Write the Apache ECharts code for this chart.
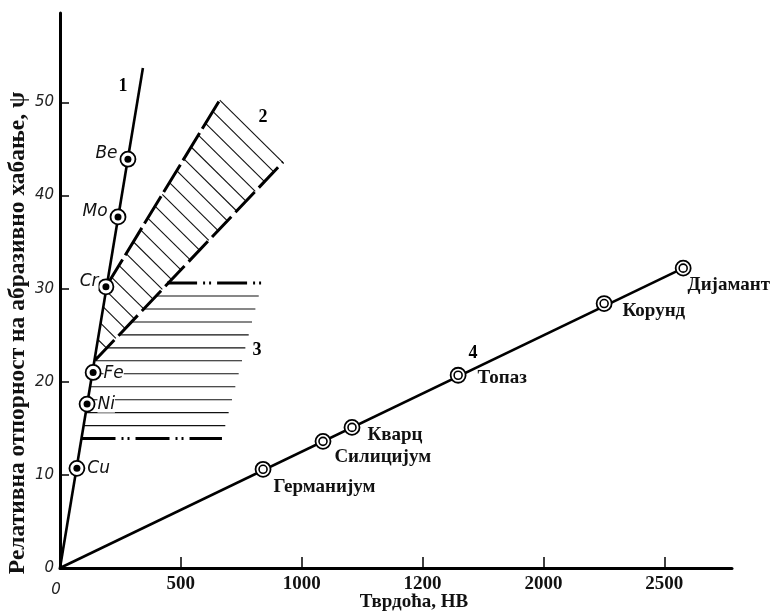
<!DOCTYPE html>
<html>
<head>
<meta charset="utf-8">
<script src="https://cdn.jsdelivr.net/npm/echarts@6/dist/echarts.min.js"></script>
<style>
  html, body { margin: 0; padding: 0; background: #fff; }
  #chart { width: 770px; height: 613px; }
</style>
</head>
<body>
<div id="chart"></div>
<script>
// axis ticks: positions on the scale and the printed labels (as in the figure)
var xTickValues = [0, 500, 1000, 1500, 2000, 2500];
var xTickLabels = ['0', '500', '1000', '1200', '2000', '2500'];
var yTickValues = [0, 10, 20, 30, 40, 50];

// curve 1 - metals
var metalNames = ['Cu', 'Ni', 'Fe', 'Cr', 'Mo', 'Be'];
var metalHB = [70, 112, 137, 190, 240, 281];
var metalPsi = [10.7, 17.6, 21.0, 30.2, 37.7, 43.9];
var line1End = [343, 53.7];

// curve 4 - minerals / semiconductors
var mineralNames = ['Германијум', 'Силицијум', 'Кварц', 'Топаз', 'Корунд', 'Дијамант'];
var mineralHB = [840, 1088, 1208, 1647, 2251, 2578];
var mineralPsi = [10.6, 13.6, 15.1, 20.7, 28.4, 32.2];

// band 2 (hatched wedge): lower-left, upper-left, top, right corners
var band2 = [[145, 22.3], [190, 30.2], [662, 50.3], [923, 43.6]];
// band 3 (horizontal hatching)
var band3 = [[443, 30.6], [836, 30.6], [670, 13.9], [89, 13.9], [145, 22.3]];
var band3Top = [[443, 30.6], [836, 30.6]];
var band3Bottom = [[89, 13.9], [670, 13.9]];

// curve numbers
var curveTags = ['1', '2', '3', '4'];
var curveTagHB = [261, 840, 815, 1709];
var curveTagPsi = [51.7, 48.4, 23.4, 23.1];

// label placement (styles)
var metalLabelPos = ['right', 'right', 'right', 'left', 'left', 'left'];
var metalLabelOffset = [[0, 0], [0, 0], [0, 1], [3, -5], [0, -5], [0, -6]];
var mineralLabelOffset = [[2, 18], [3, 16], [7, 8], [11, 3], [10, 8], [-4, 17]];

var serif = '"Liberation Serif", "Times New Roman", serif';
var sans = '"DejaVu Sans", "Liberation Sans", sans-serif';

function pairs(xs, ys) {
  return xs.map(function (x, i) { return [x, ys[i]]; });
}

// cut line n.p = d with a convex polygon
function clipLine(poly, n, d) {
  var pts = [];
  for (var i = 0; i < poly.length; i++) {
    var p = poly[i], q = poly[(i + 1) % poly.length];
    var sp = n[0] * p[0] + n[1] * p[1] - d;
    var sq = n[0] * q[0] + n[1] * q[1] - d;
    if ((sp <= 0 && sq > 0) || (sp > 0 && sq <= 0)) {
      var t = sp / (sp - sq);
      pts.push([p[0] + (q[0] - p[0]) * t, p[1] + (q[1] - p[1]) * t]);
    }
  }
  return pts.length >= 2 ? pts : null;
}

function hatch(poly, edgeA, edgeB, step) {
  var dx = poly[edgeB][0] - poly[edgeA][0], dy = poly[edgeB][1] - poly[edgeA][1];
  var len = Math.sqrt(dx * dx + dy * dy);
  var n = [-dy / len, dx / len];
  var proj = poly.map(function (p) { return n[0] * p[0] + n[1] * p[1]; });
  var d0 = proj[edgeA];
  var lo = Math.min.apply(null, proj), hi = Math.max.apply(null, proj);
  var far = Math.abs(lo - d0) > Math.abs(hi - d0) ? lo : hi;
  var sgn = far > d0 ? 1 : -1;
  var out = [];
  for (var k = 0; k < 200; k++) {
    var d = d0 + sgn * (k === 0 ? 0.5 : k * step);
    if ((far - d) * sgn <= 0.5) break;
    var seg = clipLine(poly, n, d);
    if (seg) {
      out.push({
        type: 'line',
        shape: { x1: seg[0][0], y1: seg[0][1], x2: seg[1][0], y2: seg[1][1] },
        style: { stroke: '#111', lineWidth: 1.1 }
      });
    }
  }
  return out;
}

var chart = echarts.init(document.getElementById('chart'));

var option = {
  backgroundColor: '#fff',
  animation: false,
  grid: { left: 60, right: 38, top: 13, bottom: 45, outerBoundsMode: 'none', containLabel: false },
  xAxis: {
    type: 'value',
    min: 0,
    max: 2780,
    interval: 500,
    name: 'Тврдоћа, HB',
    nameLocation: 'middle',
    nameGap: 25,
    nameMoveOverlap: false,
    nameTextStyle: { fontFamily: serif, fontWeight: 'bold', fontSize: 19, color: '#111', padding: [0, 0, 0, 36] },
    axisLine: { lineStyle: { color: '#000', width: 3 } },
    axisTick: { inside: true, length: 11, customValues: xTickValues.slice(1), lineStyle: { color: '#000', width: 1.5 } },
    axisLabel: {
      customValues: xTickValues,
      margin: 7,
      formatter: function (v) {
        var i = xTickValues.indexOf(v);
        if (i < 0) return '';
        return i === 0 ? '{i|' + xTickLabels[i] + '}' : '{b|' + xTickLabels[i] + '}';
      },
      rich: {
        i: { fontFamily: sans, fontStyle: 'italic', fontSize: 15, color: '#222', padding: [8, 8, 0, 0] },
        b: { fontFamily: serif, fontWeight: 'bold', fontSize: 19, color: '#111' }
      }
    },
    splitLine: { show: false }
  },
  yAxis: {
    type: 'value',
    min: 0,
    max: 59.6,
    interval: 10,
    axisLine: { lineStyle: { color: '#000', width: 3 } },
    axisTick: { inside: true, length: 9, customValues: yTickValues.slice(1), lineStyle: { color: '#000', width: 1.5 } },
    axisLabel: {
      customValues: yTickValues,
      margin: 6,
      fontFamily: sans,
      fontStyle: 'italic',
      fontSize: 15,
      color: '#222'
    },
    splitLine: { show: false }
  },
  graphic: [{
    type: 'text',
    x: 18,
    y: 333,
    rotation: Math.PI / 2,
    style: {
      text: 'Релативна отпорност на абразивно хабање, ψ',
      font: 'bold 23.5px ' + serif,
      fill: '#111',
      align: 'center',
      verticalAlign: 'middle'
    }
  }],
  series: [
    {
      type: 'custom',
      silent: true,
      clip: false,
      z: 1,
      data: [[0, 0]],
      renderItem: function (params, api) {
        var p2 = band2.map(function (p) { return api.coord(p); });
        var p3 = band3.map(function (p) { return api.coord(p); });
        return {
          type: 'group',
          children: hatch(p2, 2, 3, 13.5).concat(hatch(p3, 0, 1, (p3[3][1] - p3[0][1]) / 12).slice(1))
        };
      }
    },
    {
      type: 'line',
      data: [band2[1], band2[2]],
      showSymbol: false,
      silent: true,
      z: 2,
      lineStyle: { color: '#000', width: 3, type: [32, 5] }
    },
    {
      type: 'line',
      data: [band2[0], band2[3]],
      showSymbol: false,
      silent: true,
      z: 2,
      lineStyle: { color: '#000', width: 3, type: [28, 6] }
    },
    {
      type: 'line',
      data: band3Top,
      showSymbol: false,
      silent: true,
      z: 2,
      lineStyle: { color: '#000', width: 3, type: [30, 6, 2, 4, 2, 6] }
    },
    {
      type: 'line',
      data: band3Bottom,
      showSymbol: false,
      silent: true,
      z: 2,
      lineStyle: { color: '#000', width: 3, type: [34, 6, 2, 4, 2, 6] }
    },
    {
      type: 'line',
      data: [[0, 0], line1End],
      showSymbol: false,
      silent: true,
      z: 3,
      lineStyle: { color: '#000', width: 2.6 }
    },
    {
      type: 'line',
      data: [[0, 0], [mineralHB[mineralHB.length - 1], mineralPsi[mineralPsi.length - 1]]],
      showSymbol: false,
      silent: true,
      z: 3,
      lineStyle: { color: '#000', width: 2.6 }
    },
    // metals: ring with black dot
    {
      type: 'scatter',
      z: 4,
      symbolSize: 15,
      itemStyle: { color: '#fff', borderColor: '#000', borderWidth: 1.8, opacity: 1 },
      data: metalNames.map(function (name, i) {
        return {
          name: name,
          value: [metalHB[i], metalPsi[i]],
          label: { position: metalLabelPos[i], offset: metalLabelOffset[i] }
        };
      }),
      label: {
        show: true,
        formatter: '{b}',
        distance: 2,
        fontFamily: sans,
        fontStyle: 'italic',
        fontSize: 17,
        color: '#111',
        backgroundColor: '#fff'
      }
    },
    {
      type: 'scatter',
      z: 5,
      symbolSize: 7,
      itemStyle: { color: '#000', opacity: 1 },
      data: pairs(metalHB, metalPsi)
    },
    // minerals: double ring
    {
      type: 'scatter',
      z: 4,
      symbolSize: 15,
      itemStyle: { color: '#fff', borderColor: '#000', borderWidth: 1.8, opacity: 1 },
      data: mineralNames.map(function (name, i) {
        return {
          name: name,
          value: [mineralHB[i], mineralPsi[i]],
          label: { offset: mineralLabelOffset[i] }
        };
      }),
      label: {
        show: true,
        position: 'right',
        distance: 0,
        formatter: '{b}',
        fontFamily: serif,
        fontWeight: 'bold',
        fontSize: 19,
        color: '#111'
      }
    },
    {
      type: 'scatter',
      z: 5,
      symbolSize: 8,
      itemStyle: { color: '#fff', borderColor: '#000', borderWidth: 1.6, opacity: 1 },
      data: pairs(mineralHB, mineralPsi)
    },
    // curve numbers
    {
      type: 'scatter',
      z: 6,
      symbolSize: 1,
      itemStyle: { color: '#fff', opacity: 1 },
      data: curveTags.map(function (t, i) { return { name: t, value: [curveTagHB[i], curveTagPsi[i]] }; }),
      label: {
        show: true,
        position: 'inside',
        formatter: '{b}',
        fontFamily: serif,
        fontWeight: 'bold',
        fontSize: 18,
        color: '#000',
        opacity: 1
      }
    }
  ]
};

chart.setOption(option);
</script>
</body>
</html>
